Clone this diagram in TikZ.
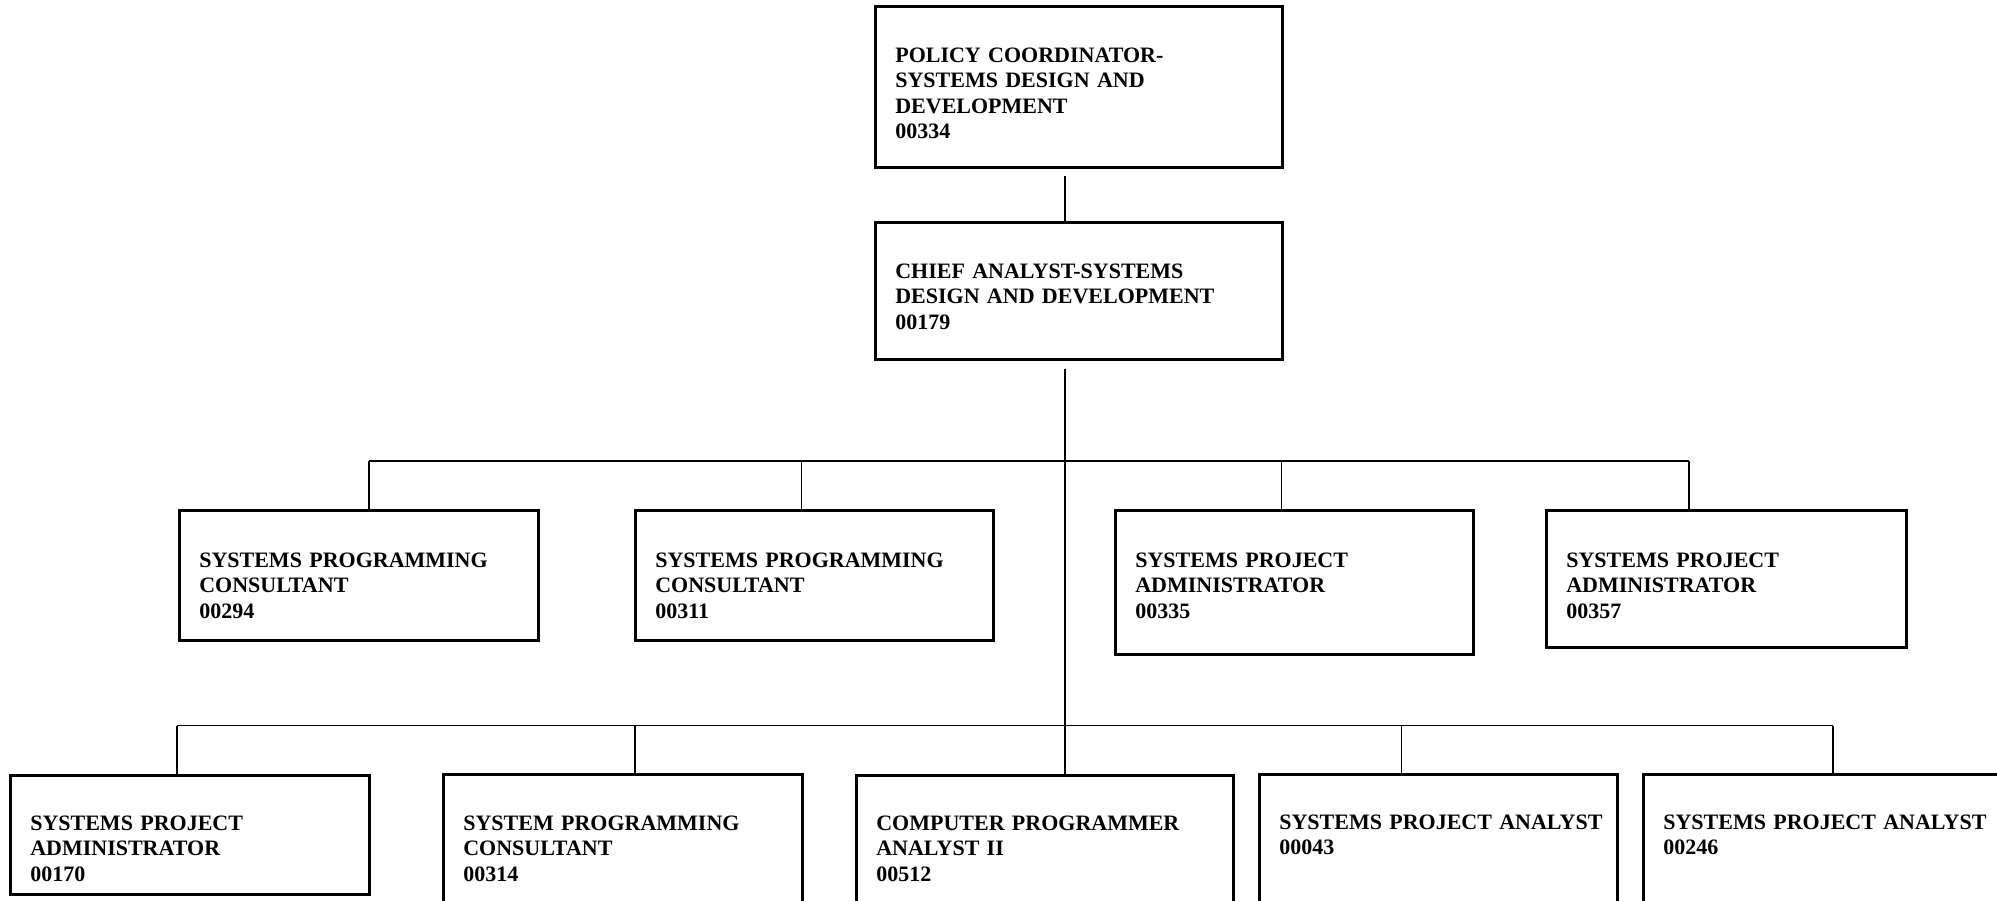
\documentclass[tikz,border=0pt]{standalone}
\usepackage{fontspec}
\setmainfont{Liberation Serif}
\hyphenpenalty=10000
\exhyphenpenalty=10000
\hbadness=10000
\hfuzz=30pt
\begin{document}
\begin{tikzpicture}[x=1pt,y=-1pt,
  post/.style={draw=black, line width=2.6pt, rectangle, anchor=north west,
    inner xsep=20pt, inner ysep=0pt, align=left,
    font=\fontsize{22}{25.5}\selectfont\bfseries},
  link/.style={draw=black, line width=1.8pt}]
\useasboundingbox (0,0) rectangle (1997,901);
\clip (0,0) rectangle (1997,901);

% posts: position, width, height, first baseline below top
\newcommand{\post}[7]{%
  \node[post, text width=#4-40pt, text height=#6pt, text depth=#5-#6pt] (#1) at (#2,#3) {#7};}
\post{p334}{874}{5}{407}{161}{56}{POLICY COORDINATOR-\\SYSTEMS DESIGN AND\\DEVELOPMENT\\00334}
\post{c179}{874}{221}{407}{137}{56}{CHIEF ANALYST-SYSTEMS\\DESIGN AND DEVELOPMENT\\00179}
\post{s294}{178}{509}{359}{130}{57}{SYSTEMS PROGRAMMING\\CONSULTANT\\00294}
\post{s311}{634}{509}{358}{130}{57}{SYSTEMS PROGRAMMING\\CONSULTANT\\00311}
\post{a335}{1114}{509}{358}{144}{57}{SYSTEMS PROJECT\\ADMINISTRATOR\\00335}
\post{a357}{1545}{509}{360}{137}{57}{SYSTEMS PROJECT\\ADMINISTRATOR\\00357}
\post{a170}{9}{774}{359}{119}{55}{SYSTEMS PROJECT\\ADMINISTRATOR\\00170}
\post{s314}{442}{773}{359}{200}{56}{SYSTEM PROGRAMMING\\CONSULTANT\\00314}
\post{p512}{855}{774}{377}{200}{55}{COMPUTER PROGRAMMER\\ANALYST II\\00512}
\post{n043}{1258}{773}{358}{200}{55}{SYSTEMS~PROJECT~ANALYST\\00043}
\post{n246}{1642}{773}{400}{200}{55}{SYSTEMS~PROJECT~ANALYST\\00246}

% spine and bus drop points
\coordinate (spine) at (1065,0);
\coordinate (dA) at (369,461);
\coordinate (dB) at (801.5,461);
\coordinate (dC) at (1281.5,461);
\coordinate (dD) at (1689,461);
\coordinate (dE) at (177,725.5);
\coordinate (dF) at (635,725.5);
\coordinate (dH) at (1401.5,725.5);
\coordinate (dI) at (1833,725.5);

\draw[link] ([yshift=-7pt]p334.south -| spine) -- (c179.north -| spine);
\draw[link] ([yshift=-8pt]c179.south -| spine) -- (p512.north -| spine);

\draw[link] (dA) -- (dD);
\draw[link] (dA) -- (dA |- s294.north);
\draw[link] (dB) -- (dB |- s311.north);
\draw[link] (dC) -- (dC |- a335.north);
\draw[link] (dD) -- (dD |- a357.north);

\draw[link] (dE) -- (dI);
\draw[link] (dE) -- (dE |- a170.north);
\draw[link] (dF) -- (dF |- s314.north);
\draw[link] (dH) -- (dH |- n043.north);
\draw[link] (dI) -- (dI |- n246.north);
\end{tikzpicture}
\end{document}
